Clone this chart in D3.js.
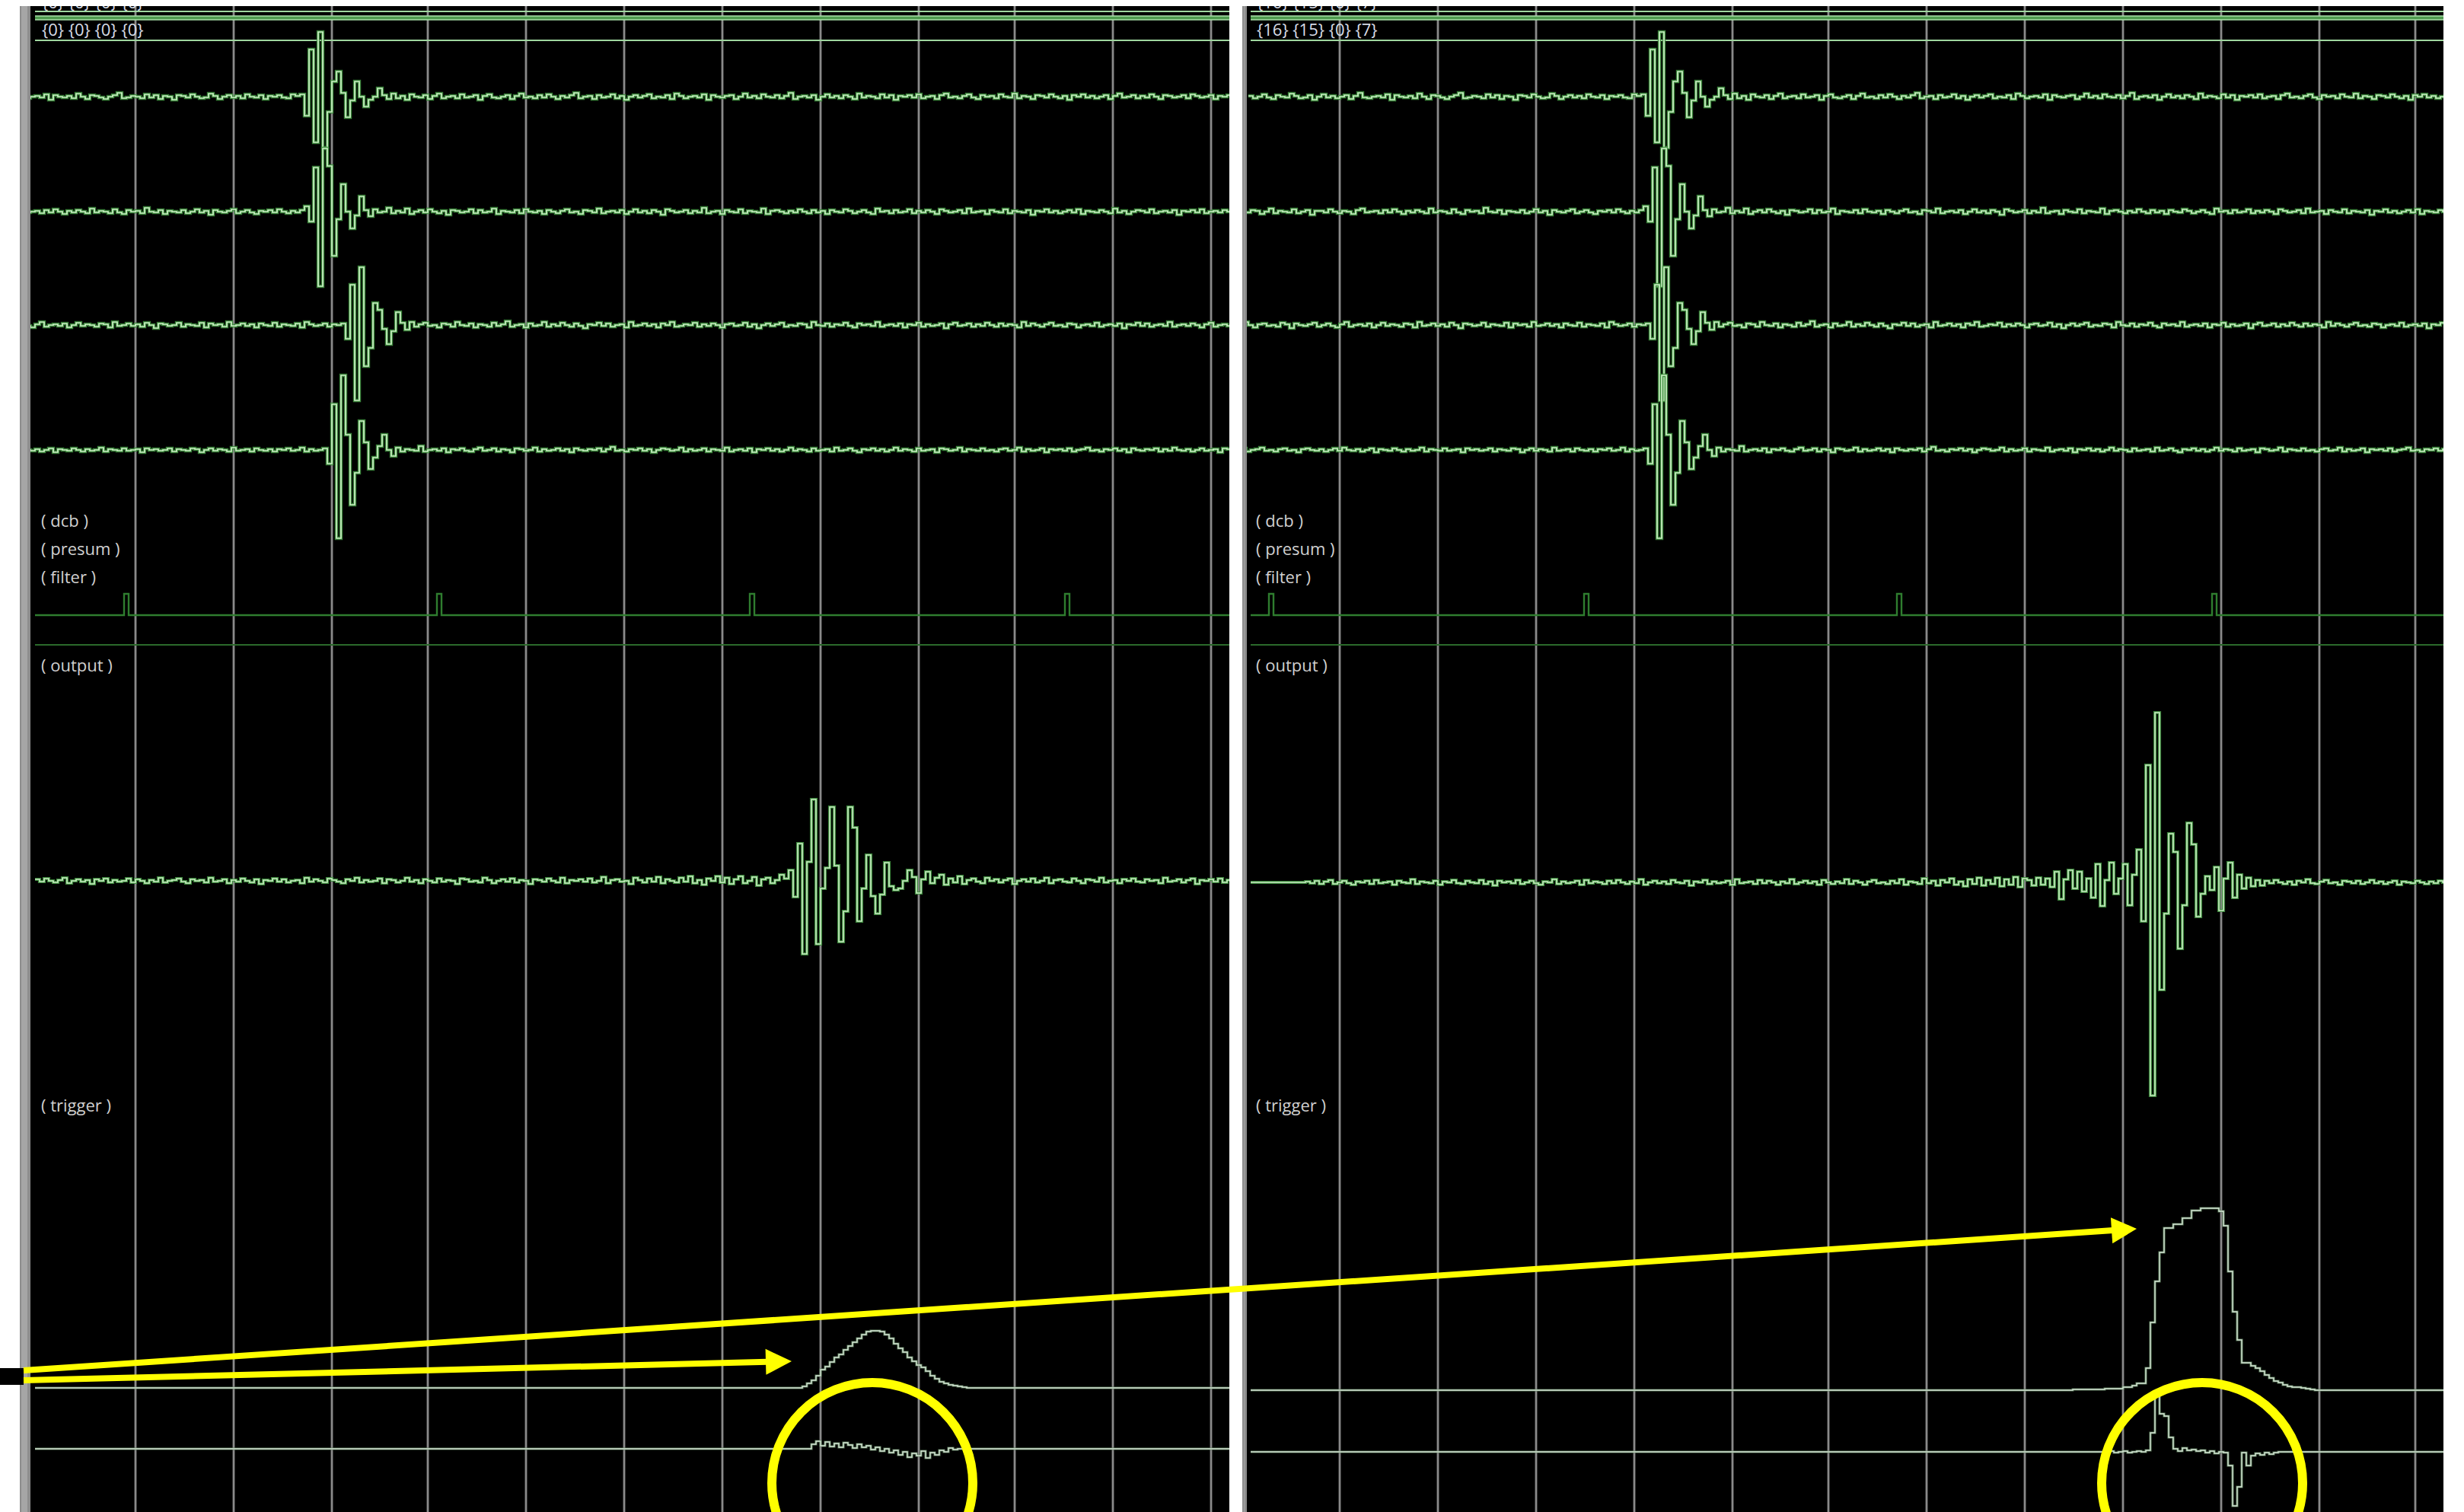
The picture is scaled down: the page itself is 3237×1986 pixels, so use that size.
<!DOCTYPE html>
<html>
<head>
<meta charset="utf-8">
<script src="https://cdn.jsdelivr.net/npm/d3@7"></script>
<style>
  html, body { margin: 0; padding: 0; background: #ffffff; }
  svg { display: block; }
</style>
</head>
<body>
<svg id="scope" width="3237" height="1986"></svg>
<script>
// ---------------------------------------------------------------
// Beamformer debug view: raw channels (left) vs delayed channels
// (right), each followed by the summed output and trigger signals.
// Channel samples are stored every 2 raw samples; delays are in raw
// samples.
// ---------------------------------------------------------------

// per-channel delays applied in each view
const leftDelays  = [0, 0, 0, 0];
const rightDelays = [16, 15, 0, 7];

// stage names shown down the side of each view
const stageLabels   = ["( dcb )", "( presum )", "( filter )"];
const outputLabel   = "( output )";
const triggerLabel  = "( trigger )";

// channel data (first 28 stored samples precede the left view's start)
const ch1 = [
  1,-2,0,3,-1,-3,2,0,-1,4,1,-2,-1,2,-4,0,3,-1,1,-2,
  0,2,-3,1,5,-1,-2,0,1,-1,3,-4,2,0,-1,1,-2,4,0,-3,
  2,1,-1,-3,0,2,5,-2,-1,1,0,-2,3,-1,2,-3,1,0,-4,2,
  1,-1,3,0,-2,-1,4,1,-3,0,2,-1,1,-2,3,0,-1,2,-3,1,
  0,2,-1,-2,3,1,3,-25,62,-60,85,-67,-20,20,33,5,-27,-5,20,0,
  -13,-4,0,11,2,-3,4,-2,1,-4,3,0,-1,2,-3,1,4,-2,0,1,
  -2,3,-1,0,2,-4,1,3,-1,-2,0,2,-3,1,4,-1,0,-2,2,-1,
  3,0,-3,1,-1,2,5,-2,0,1,-3,2,-1,0,3,-2,1,-4,0,2,
  -1,1,3,-2,0,-1,2,-3,4,1,-2,0,1,-1,3,-4,2,0,-1,1,
  2,-3,0,4,-1,1,-2,3,0,-1,2,-2,1,5,-3,0,1,-1,2,-4,
  0,3,-1,1,-2,2,0,-3,4,-1,1,0,-2,3,-1,2,-4,1,0,2,
  -1,3,-2,0,1,-3,2,4,-1,0,-2,1,3,-1,-3,2,0,1,-2,3,
  0,-1,4,-2,1,0,-3,2,1,-1,3,0,-2,1,-4,2,0,3,-1,1,
  -2,0,2,-3,1,4,-1,0,2,-2,1,-1,3,0,-3,2,1,-1,0,2,
  -2,3,1,-1,0,2,-3,1,0,2,-1
];
const ch2 = [
  -1,2,1,-3,0,4,-2,1,0,-1,3,-2,0,2,-4,1,1,-1,3,0,
  -2,1,0,-3,2,4,-1,0,1,-2,2,-1,3,0,-3,1,-1,2,0,-2,
  4,-1,1,0,-2,3,-1,-3,2,0,1,-2,5,0,-1,2,-3,1,0,-1,
  2,-2,0,3,-1,1,-4,2,0,-1,1,3,-2,0,2,-1,-3,1,0,2,
  -1,3,0,-2,1,-1,2,7,-13,58,-98,83,60,-58,-10,36,0,-22,-5,20,
  2,-6,3,-1,0,5,-2,1,-1,4,-3,0,2,-1,3,0,-2,1,-4,2,
  1,-1,0,3,-2,2,-1,0,4,-3,1,0,-1,2,-2,3,0,-1,1,-3,
  2,0,-2,1,3,-1,0,-3,2,1,-1,4,-2,0,1,-1,2,-3,0,3,
  -1,1,-2,2,0,-4,3,1,-1,0,2,-2,1,-1,5,-2,0,1,-3,2,
  0,-1,3,-2,1,0,-1,4,-3,1,2,0,-2,1,-1,3,0,-2,2,-1,
  1,-3,2,0,-1,3,1,-2,0,2,-1,-3,4,0,1,-2,2,-1,0,3,
  -2,1,-1,2,0,-3,3,1,-1,0,2,-2,4,-1,0,1,-3,2,0,-1,
  3,-2,1,0,-1,2,-4,1,0,3,-1,1,-2,0,2,-1,3,-3,1,0,
  -1,2,0,-2,4,-1,1,-3,0,2,1,-1,3,-2,0,1,-1,2,-4,1,
  0,2,-1,3,-2,0,1,-1,2,0,-3
];
const ch3 = [
  2,-1,0,3,-2,1,-1,4,0,-3,1,2,-1,0,-2,3,1,-4,2,0,
  -1,1,3,-2,0,2,-1,-3,1,4,-2,0,1,-1,2,-3,0,3,-1,1,
  0,-2,2,1,-3,4,-1,0,2,-1,1,-2,3,0,-4,2,1,-1,0,3,
  -2,1,0,-1,3,-3,2,0,1,-2,4,-1,0,2,-1,1,-3,2,0,-1,
  3,-2,1,0,-1,2,-3,4,1,-1,0,2,-2,1,0,2,-18,53,-99,76,
  -54,-30,29,20,-5,-25,-8,17,3,-6,4,-2,1,3,-1,0,-3,2,1,-2,
  4,0,-1,2,-3,1,0,-2,3,-1,1,5,-2,0,1,-3,2,-1,0,4,
  -2,1,-1,3,0,-2,2,-1,-4,1,0,3,-1,2,-2,0,1,-3,4,-1,
  0,2,-1,1,-3,2,0,4,-2,-1,1,0,3,-2,1,-1,2,0,-3,1,
  2,-1,0,3,-2,1,-4,0,2,-1,1,3,-2,0,-1,2,1,-3,4,0,
  -1,2,-2,1,0,3,-1,-3,2,0,1,-1,4,-2,0,1,-1,2,-3,1,
  0,3,-2,1,-1,0,2,-4,1,3,-1,0,2,-2,1,-1,3,0,-2,2,
  -1,1,0,-3,4,-1,2,0,-2,1,3,-1,0,-2,2,1,-3,0,1,-1,
  3,-2,0,1,-1,2,-4,1,0,3,-1,2,-2,0,1,-1,4,-2,0,1,
  -1,2,0,-3,1,3,-2,0,1,-1,2
];
const ch4 = [
  0,1,-1,2,-2,0,1,3,-1,0,-2,1,2,-1,0,-3,1,2,0,-1,
  1,-2,0,2,-1,3,0,-1,1,-2,0,2,-3,1,0,-1,2,0,-2,1,
  -1,0,3,-2,1,0,-1,2,-1,0,1,-3,2,0,1,-1,0,2,-2,1,
  0,-1,2,1,-3,0,2,-1,1,0,-2,3,-1,0,1,-2,2,0,-1,1,
  -2,1,0,2,-1,0,3,-2,1,-1,0,2,-18,60,-116,98,20,-72,-30,38,
  10,-25,-10,5,20,0,-8,3,-2,1,0,-1,5,-2,0,1,-1,2,-3,1,
  0,2,-1,-2,1,3,-1,0,2,-2,1,0,-3,2,1,-1,0,3,-2,1,
  -1,0,2,-1,1,-3,2,0,-1,1,0,2,-2,1,4,-1,0,-2,1,0,
  2,-1,1,-3,0,2,1,-1,0,3,-2,1,-1,0,2,-2,1,0,-1,3,
  -2,0,1,-1,2,-3,1,0,2,-1,1,-2,0,3,-1,1,0,-2,2,-1,
  0,1,-2,3,-1,0,2,-1,-3,1,0,2,-1,1,-2,0,3,-1,1,0,
  -2,2,-1,0,1,-3,2,1,-1,0,3,-2,1,0,-1,2,-1,0,-2,1,
  2,-1,0,3,-2,1,-1,0,2,-3,1,0,1,-1,2,-2,0,1,3,-1,
  0,-2,1,0,2,-1,1,-3,2,0,-1,1,0,2,-2,1,-1,3,0,-1,
  1,-2,0,2,-1,0,1,-3,2,1,0
];

// summed output, one value per 2 raw samples
const outputLeft = [
  2,-1,3,0,-2,1,4,-3,0,2,-1,1,-4,2,0,3,-2,1,-1,0,
  3,-2,2,0,-3,1,-1,4,-2,0,1,3,-1,-3,2,0,1,-2,4,-1,
  0,2,-3,1,-1,3,0,-2,2,-4,1,0,3,-1,2,-2,0,1,-3,4,
  -1,2,0,-2,3,1,-1,-3,2,0,4,-2,1,-1,0,3,-3,2,1,-2,
  0,4,-1,1,-3,2,0,-2,3,-1,1,0,-4,3,2,-1,0,-2,4,1,
  -3,0,2,-1,3,-2,1,0,-4,2,1,-1,3,0,-2,4,-3,1,0,2,
  -1,3,-2,0,5,-3,1,2,-1,0,-4,4,1,-2,3,-1,5,-3,2,0,
  -2,4,-1,6,-3,1,-5,3,0,6,-2,4,-4,2,6,-3,0,5,-6,2,
  4,-3,1,8,3,14,-21,49,-96,25,107,-83,-10,17,97,20,-80,-40,97,70,
  -53,-10,34,-20,-43,-18,24,-7,-12,-10,0,14,5,-16,2,12,-3,4,8,-5,
  3,-2,6,-4,1,3,-1,-3,4,0,2,-2,1,3,-4,0,2,-1,3,-2,
  0,4,-3,1,2,-1,-2,3,0,-3,2,1,-1,4,-2,0,1,-3,2,0,
  3,-1,-2,2,0,1,-3,4,-1,0,2,-2,1,3,-4,1,0,2,-1,3,
  -2,1
];
const outputRight = [
  0,0,0,0,0,0,0,0,0,0,0,0,1,-1,2,-2,1,3,-2,0,
  2,-1,-3,1,0,2,-2,3,-1,0,1,-3,2,0,-1,4,-2,1,0,-1,
  2,-3,1,0,3,-1,-2,2,0,-1,3,-2,1,-4,2,0,1,-1,3,-2,
  0,2,-1,-3,1,0,4,-2,1,-1,0,2,-3,3,-1,1,0,-2,2,-1,
  3,0,-2,1,-1,4,-3,0,2,-1,1,-2,3,0,-1,2,-4,1,0,3,
  -2,1,-1,0,2,-3,4,-1,0,1,-2,3,-1,2,0,-3,1,-1,4,-2,
  0,2,-1,1,-3,3,0,-2,1,-1,4,-2,2,0,-3,1,3,-1,0,-2,
  2,-1,4,-3,1,0,-2,5,-1,2,-4,3,0,5,-3,1,-5,4,-2,6,
  -4,3,-2,6,-5,4,-3,7,-6,5,3,-4,6,-3,5,-6,14,-22,4,16,
  -8,14,-12,5,-20,24,-31,3,26,-15,5,24,-30,10,43,-51,154,-280,223,-141,
  -41,64,40,-87,-30,78,50,-45,-15,8,-10,20,-37,5,26,-20,10,-8,6,-5,
  3,-4,2,-1,3,0,-2,1,-3,2,0,4,-1,-2,1,3,-1,0,-3,2,
  1,-1,2,-2,0,3,-1,1,-2,0,2,-3,1,0,-1,2,0,-2,1,-1,
  2,0
];

// trigger energy (non-zero stretch and its first stored sample)
const triggerLeftStart = 168;
const triggerLeft = [
  2,6,10,16,24,28,34,40,44,50,55,60,65,70,74,75,75,74,70,65,
  58,52,47,40,35,30,27,22,16,12,8,6,4,3,2,1
];
const triggerRightStart = 180;
const triggerRight = [
  1,1,1,1,1,1,1,2,2,2,2,4,4,6,9,9,29,89,143,181,
  213,213,218,218,226,226,236,236,239,239,239,239,235,216,156,103,66,36,36,32,
  29,25,20,16,12,10,7,5,4,4,3,2,1
];

// trigger derivative
const slopeLeftStart = 170;
const slopeLeft = [
  6,10,4,9,3,7,2,8,5,1,6,2,4,-1,2,-3,0,-5,-2,-8,
  -4,-11,-6,-9,-3,-12,-5,-8,-2,-4,1,-1,0
];
const slopeRightStart = 188;
const slopeRight = [
  1,-1,0,1,-1,0,1,0,2,25,74,50,47,19,4,1,5,2,3,1,
  2,-1,1,-2,0,-1,-18,-71,-46,-1,-18,-5,-2,-4,-1,-3,-1,0
];

// filter-valid strobes (raw sample positions)
const filterLeft  = [39, 176, 313, 451];
const filterRight = [8, 146, 283, 421];

// time grid (raw sample positions)
const gridLeft  = [44, 87, 130, 172, 215, 258, 301, 344, 387, 429, 472, 515];
const gridRight = [39, 82, 125, 168, 211, 253, 296, 339, 382, 425, 468, 510];

// ---------------------------------------------------------------
const RAW_N = 523;   // raw samples across a view
const PRE = 28;      // stored samples before the view start
const LAG = 39;      // common alignment lag of the delayed view
const STORED = 262;  // stored samples per view

const svg = d3.select("#scope");
const W = 3237, H = 1986;
const TOP = 8;

svg.append("rect").attr("width", W).attr("height", H).attr("fill", "#ffffff");

const panels = [
  { id: "L", left: 40, right: 1615, bar: [26, 40], x0: 46, delays: leftDelays, lag: 0,
    grid: gridLeft, out: outputLeft, outBase: 1157,
    trigStart: triggerLeftStart, trig: triggerLeft, trigBase: 1823,
    slopeStart: slopeLeftStart, slope: slopeLeft, slopeBase: 1903,
    filter: filterLeft, labelX: 54 },
  { id: "R", left: 1638, right: 3210, bar: [1632, 1638], x0: 1643, delays: rightDelays, lag: LAG,
    grid: gridRight, out: outputRight, outBase: 1159,
    trigStart: triggerRightStart, trig: triggerRight, trigBase: 1826,
    slopeStart: slopeRightStart, slope: slopeRight, slopeBase: 1907,
    filter: filterRight, labelX: 1650 }
];

const channels = [ch1, ch2, ch3, ch4];
const channelBase = [127, 278, 427, 591];

const defs = svg.append("defs");

function ampScale(base) {
  return d3.scaleLinear().domain([-300, 300]).range([base + 300, base - 300]);
}
const stepLine = (x, y) => d3.line().x(d => x(d[0])).y(d => y(d[1])).curve(d3.curveStepAfter);

function withTail(pts, step) {
  const last = pts[pts.length - 1];
  return pts.concat([[last[0] + step, last[1]]]);
}

function expand(start, vals) {
  return d3.range(STORED).map(k => (k >= start && k < start + vals.length) ? vals[k - start] : 0);
}

function glowPath(g, d, halo, haloW, core, coreW) {
  g.append("path").attr("d", d).attr("fill", "none")
    .attr("stroke", halo).attr("stroke-width", haloW).attr("stroke-linejoin", "miter").attr("stroke-opacity", 0.9);
  g.append("path").attr("d", d).attr("fill", "none")
    .attr("stroke", core).attr("stroke-width", coreW).attr("stroke-linejoin", "miter");
}

panels.forEach(p => {
  // frame
  svg.append("rect").attr("x", p.bar[0]).attr("y", TOP).attr("width", p.bar[1] - p.bar[0]).attr("height", H - TOP)
    .attr("fill", "#8d8d8d");
  svg.append("rect").attr("x", p.bar[0] + 2).attr("y", TOP).attr("width", Math.max(1, p.bar[1] - p.bar[0] - 6)).attr("height", H - TOP)
    .attr("fill", "#a6a6a6");
  svg.append("rect").attr("x", p.left).attr("y", TOP).attr("width", p.right - p.left).attr("height", H - TOP)
    .attr("fill", "#000000");

  defs.append("clipPath").attr("id", "clip" + p.id)
    .append("rect").attr("x", p.left).attr("y", TOP).attr("width", p.right - p.left).attr("height", H - TOP);

  const g = svg.append("g").attr("clip-path", `url(#clip${p.id})`);
  const x = d3.scaleLinear().domain([0, RAW_N]).range([p.x0, p.x0 + RAW_N * 3]);

  // vertical time grid
  g.selectAll("line.grid").data(p.grid).join("line").attr("class", "grid")
    .attr("x1", d => x(d)).attr("x2", d => x(d)).attr("y1", TOP).attr("y2", H)
    .attr("stroke", "#8a8a8a").attr("stroke-width", 2.8);

  // header rules
  const hdr = [15, 53];
  g.selectAll("line.hdr").data(hdr).join("line").attr("class", "hdr")
    .attr("x1", x(0)).attr("x2", p.right).attr("y1", d => d).attr("y2", d => d)
    .attr("stroke", "#9fd69f").attr("stroke-width", 2);
  g.append("rect").attr("x", x(0)).attr("y", 21).attr("width", p.right - x(0)).attr("height", 5)
    .attr("fill", "#4f9a4f");
  g.selectAll("line.band").data([21, 26]).join("line").attr("class", "band")
    .attr("x1", x(0)).attr("x2", p.right).attr("y1", d => d).attr("y2", d => d)
    .attr("stroke", "#a9dfa9").attr("stroke-width", 1.3);

  // delay labels (previous frame's row is mostly scrolled off)
  const delayText = p.delays.map(d => `{${d}}`).join(" ");
  [11, 47].forEach(yb => {
    g.append("text").attr("x", p.labelX + 1).attr("y", yb).text(delayText)
      .attr("font-family", "'Open Sans', 'DejaVu Sans', sans-serif").attr("font-size", 22)
      .attr("fill", "#d6dbe6");
  });

  // stage labels
  const labelRows = [
    { t: stageLabels[0], y: 692 }, { t: stageLabels[1], y: 729 }, { t: stageLabels[2], y: 766 },
    { t: outputLabel, y: 882 }, { t: triggerLabel, y: 1460 }
  ];
  g.selectAll("text.stage").data(labelRows).join("text").attr("class", "stage")
    .attr("x", p.labelX).attr("y", d => d.y).text(d => d.t)
    .attr("font-family", "'Open Sans', 'DejaVu Sans', sans-serif").attr("font-size", 22)
    .attr("fill", "#d0d0d0");

  // channel traces
  channels.forEach((ch, i) => {
    const y = ampScale(channelBase[i]);
    const pts = withTail(ch.map((v, m) => [2 * (m - PRE) + p.lag + p.delays[i], v]), 2);
    glowPath(g, stepLine(x, y)(pts), "#3f8f3f", 4.4, "#cdf2c6", 1.7);
  });

  // filter strobe + separator
  const yF = d3.scaleLinear().domain([0, 1]).range([808, 780]);
  const fpts = [[0, 0]].concat(p.filter.flatMap(t => [[t, 1], [t + 2, 0]])).concat([[RAW_N + 4, 0]]);
  g.append("path").attr("d", stepLine(x, yF)(fpts)).attr("fill", "none")
    .attr("stroke", "#2f7d2f").attr("stroke-width", 2.4);
  g.append("line").attr("x1", x(0)).attr("x2", p.right).attr("y1", 847).attr("y2", 847)
    .attr("stroke", "#2b6a2b").attr("stroke-width", 2.2);

  // summed output
  const yO = ampScale(p.outBase);
  const opts = withTail(p.out.map((v, k) => [2 * k, v]), 2);
  glowPath(g, stepLine(x, yO)(opts), "#3f8f3f", 4.2, "#cdf2c6", 1.6);

  // trigger energy
  const yT = ampScale(p.trigBase);
  const tpts = withTail(expand(p.trigStart, p.trig).map((v, k) => [2 * k, v]), 2);
  glowPath(g, stepLine(x, yT)(tpts), "#5d7f5d", 3.2, "#d6e6d6", 1.4);

  // trigger slope
  const yS = ampScale(p.slopeBase);
  const spts = withTail(expand(p.slopeStart, p.slope).map((v, k) => [2 * k, v]), 2);
  glowPath(g, stepLine(x, yS)(spts), "#5d7f5d", 3.2, "#d6e6d6", 1.4);
});

// ---------------------------------------------------------------
// callouts
const ann = svg.append("g");
ann.append("rect").attr("x", 0).attr("y", 1797).attr("width", 31).attr("height", 22).attr("fill", "#000000");

function arrow(x1, y1, x2, y2, headLen, headHalf) {
  const a = Math.atan2(y2 - y1, x2 - x1);
  const bx = x2 - headLen * Math.cos(a), by = y2 - headLen * Math.sin(a);
  ann.append("line").attr("x1", x1).attr("y1", y1).attr("x2", bx + 2 * Math.cos(a)).attr("y2", by + 2 * Math.sin(a))
    .attr("stroke", "#ffff00").attr("stroke-width", 8);
  const nx = -Math.sin(a), ny = Math.cos(a);
  ann.append("path")
    .attr("d", `M${x2},${y2}L${bx + nx * headHalf},${by + ny * headHalf}L${bx - nx * headHalf},${by - ny * headHalf}Z`)
    .attr("fill", "#ffff00");
}
arrow(31, 1813, 1040, 1788, 34, 17);
arrow(31, 1800, 2807, 1614, 33, 17);

[[1146, 1948], [2893, 1948]].forEach(c => {
  ann.append("circle").attr("cx", c[0]).attr("cy", c[1]).attr("r", 132)
    .attr("fill", "none").attr("stroke", "#ffff00").attr("stroke-width", 12);
});
</script>
</body>
</html>
